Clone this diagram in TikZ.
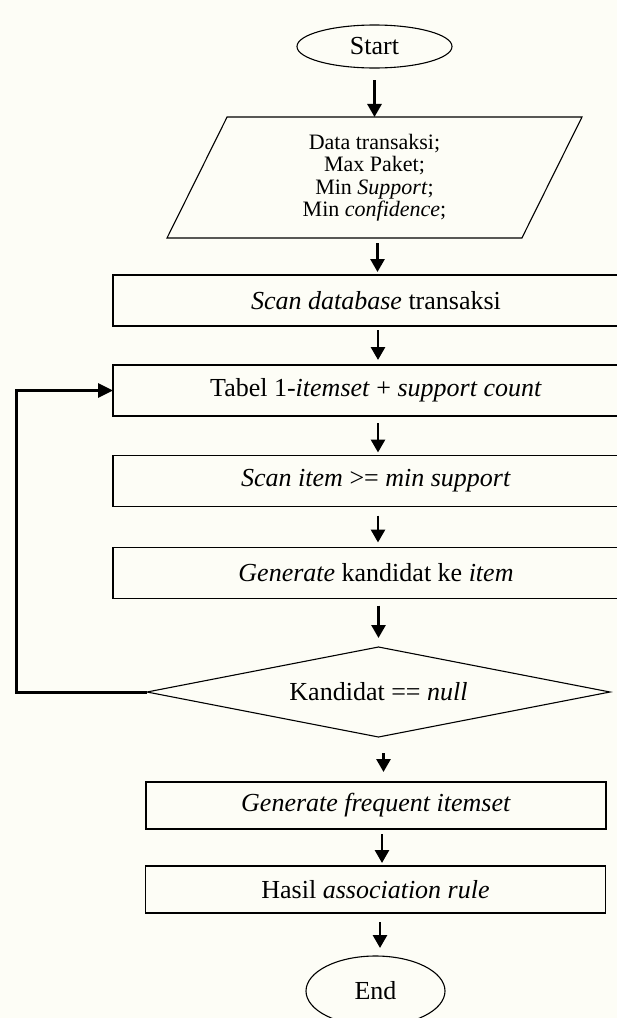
\documentclass[tikz,border=0pt]{standalone}
\usepackage{fontspec}
\setmainfont{Liberation Serif}
\usetikzlibrary{shapes.geometric,arrows.meta}
\definecolor{paper}{RGB}{253,253,246}
\begin{document}
\begin{tikzpicture}[x=1pt,y=-1pt,
  every node/.style={font=\fontsize{26}{28}\selectfont, inner sep=0pt, outer sep=0pt},
  procbox/.style={draw, line width=1.2pt, minimum width=526pt, minimum height=51pt},
  outbox/.style={draw, line width=1.2pt, minimum width=460pt, minimum height=47pt},
  term/.style={draw, ellipse, line width=1.1pt},
  flow/.style={line width=2.8pt, -{Triangle[length=13pt,width=14pt]}},
  loopline/.style={line width=3pt, -{Triangle[length=15pt,width=14pt]}},
]
\useasboundingbox (0,0) rectangle (617,1018);
\clip (0,0) rectangle (617,1018);
\fill[paper] (0,0) rectangle (617,1018);

\node[term, minimum width=155pt, minimum height=43pt] (start) at (374.5,46.5) {Start};

\node[draw, trapezium, trapezium left angle=55.5, trapezium right angle=124.5,
      trapezium stretches body, minimum width=415pt, minimum height=121pt,
      line width=1.1pt, align=center,
      font=\fontsize{22}{22.5}\selectfont] (input) at (374.5,177.5)
  {Data transaksi;\\Max Paket;\\Min \textit{Support};\\Min \textit{confidence};};

\node[procbox] (scandb) at (376,300.5) {\textit{Scan database} transaksi};
\node[procbox] (tabel) at (376,390.5) {Tabel 1-\textit{itemset} + \textit{support count}};
\node[procbox] (scanitem) at (376,481) {\textit{Scan item} >= \textit{min support}};
\node[procbox] (gen) at (376,573) {\textit{Generate} kandidat ke \textit{item}};

\node[draw, diamond, aspect=5, minimum width=463pt, minimum height=90pt,
      line width=1.1pt] (dia) at (378.5,692) {Kandidat == \textit{null}};

\node[outbox] (freq) at (376,805.5) {\textit{Generate frequent itemset}};
\node[outbox] (hasil) at (375.5,889.5) {Hasil \textit{association rule}};

\node[term, minimum width=139pt, minimum height=70pt] (end) at (375.5,991) {End};

\draw[flow, shorten <=12pt] (start) -- (input);
\draw[flow, shorten <=5pt, shorten >=3pt] ([xshift=3pt]input.south) -- ([xshift=3pt]input.south |- scandb.north);
\draw[flow, shorten <=4pt, shorten >=5pt] ([xshift=2pt]scandb.south) -- ([xshift=2pt]tabel.north);
\draw[flow, shorten <=7pt, shorten >=3pt] ([xshift=2pt]tabel.south) -- ([xshift=2pt]scanitem.north);
\draw[flow, shorten <=9pt, shorten >=5pt] ([xshift=2pt]scanitem.south) -- ([xshift=2pt]gen.north);
\draw[flow, shorten <=7pt, shorten >=9pt] (dia.north |- gen.south) -- (dia.north);
\draw[flow, shorten <=16pt, shorten >=10pt] ([xshift=5pt]dia.south) -- ([xshift=5pt]dia.south |- freq.north);
\draw[flow, shorten <=5pt, shorten >=3pt] ([xshift=6pt]freq.south) -- ([xshift=6pt]freq.south |- hasil.north);
\draw[flow, shorten <=9pt, shorten >=8pt] ([xshift=4.5pt]hasil.south) -- ([xshift=4.5pt]hasil.south |- end.north);

\coordinate (lb) at (16,692);
\draw[loopline, line join=miter] (dia.west) -- (lb) -- (lb |- tabel.west) -- (tabel.west);
\end{tikzpicture}
\end{document}
